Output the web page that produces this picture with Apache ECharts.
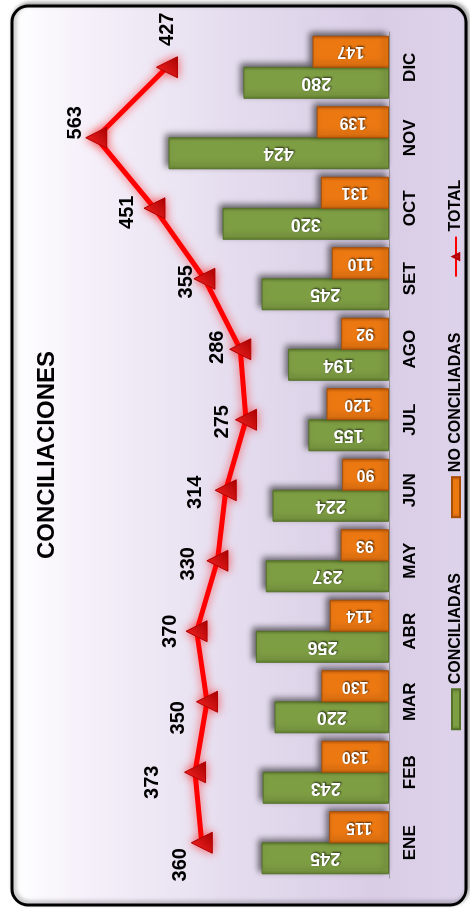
<!DOCTYPE html>
<html>
<head>
<meta charset="utf-8">
<script src="https://cdn.jsdelivr.net/npm/echarts@6/dist/echarts.min.js"></script>
<style>
  html, body { margin: 0; padding: 0; background: #fff; overflow: hidden; }
  body { width: 470px; height: 910px; position: relative; }
  /* the chart is drawn landscape and turned a quarter turn to the left */
  #conc-chart-div {
    position: absolute; left: 0; top: 0;
    width: 910px; height: 470px;
    transform-origin: 0 0;
    transform: translate(0, 910px) rotate(-90deg);
  }
</style>
</head>
<body>
<div id="conc-chart-div"></div>
<script>
var months = ['ENE', 'FEB', 'MAR', 'ABR', 'MAY', 'JUN', 'JUL', 'AGO', 'SET', 'OCT', 'NOV', 'DIC'];
var conciliadas = [245, 243, 220, 256, 237, 224, 155, 194, 245, 320, 424, 280];
var noConciliadas = [115, 130, 130, 114, 93, 90, 120, 92, 110, 131, 139, 147];
var total = [360, 373, 350, 370, 330, 314, 275, 286, 355, 451, 563, 427];

// where each TOTAL label sits relative to its marker (hand placed in the original)
var totalLabelOffsets = [[-22, -21], [-10, -43], [-16, -29], [0, -26], [-3, -29], [-2, -30],
    [-2, -24], [2, -23], [-3, -18], [-4, -27], [15, -21], [38, 1]];

var conc_font = 'Arial, "Liberation Sans", sans-serif';
var conc_chartDom = document.getElementById('conc-chart-div');
var conc_myChart = echarts.init(conc_chartDom);

var conc_green = new echarts.graphic.LinearGradient(0, 0, 1, 0, [
    { offset: 0, color: '#64832e' },
    { offset: 0.12, color: '#7e9e44' },
    { offset: 0.88, color: '#7e9e44' },
    { offset: 1, color: '#5f7c2b' }
]);
var conc_orange = new echarts.graphic.LinearGradient(0, 0, 1, 0, [
    { offset: 0, color: '#c9600a' },
    { offset: 0.12, color: '#ec7812' },
    { offset: 0.88, color: '#ec7812' },
    { offset: 1, color: '#c25b08' }
]);

// values inside the bars read upside down once the page is turned
var conc_barLabel = {
    show: true,
    position: 'inside',
    rotate: 90,
    color: '#fff',
    fontWeight: 'bold',
    fontFamily: conc_font,
    fontSize: 18,
    textShadowColor: 'rgba(0,0,0,0.7)',
    textShadowBlur: 2,
    textShadowOffsetX: 1,
    textShadowOffsetY: 1
};

var conc_option = {
    animation: false,
    graphic: [
        {
            type: 'rect',
            z: -10,
            silent: true,
            shape: { x: 5, y: 12, width: 899, height: 454, r: 16 },
            style: {
                fill: new echarts.graphic.LinearGradient(0, 0, 0, 1, [
                    { offset: 0, color: '#ffffff' },
                    { offset: 0.15, color: '#f6f1fa' },
                    { offset: 0.5, color: '#e4dcee' },
                    { offset: 0.8, color: '#d9cde6' },
                    { offset: 1, color: '#ddd3ea' }
                ]),
                stroke: '#000',
                lineWidth: 3,
                shadowColor: 'rgba(0,0,0,0.35)',
                shadowBlur: 4,
                shadowOffsetX: 2,
                shadowOffsetY: 2
            }
        }
    ],
    title: {
        text: 'CONCILIACIONES',
        left: 'center',
        top: 30,
        textStyle: {
            fontFamily: conc_font,
            fontWeight: 'bold',
            fontSize: 24,
            color: '#000'
        }
    },
    legend: {
        left: 'center',
        top: 443,
        itemGap: 55,
        itemWidth: 40,
        itemHeight: 8,
        selectedMode: false,
        textStyle: {
            fontFamily: conc_font,
            fontWeight: 'bold',
            fontSize: 16,
            color: '#000'
        },
        data: [
            { name: 'CONCILIADAS', icon: 'rect' },
            { name: 'NO CONCILIADAS', icon: 'rect' },
            { name: 'TOTAL' }
        ]
    },
    grid: {
        left: 32,
        right: 32,
        top: 25,
        bottom: 81
    },
    xAxis: {
        type: 'category',
        data: months,
        axisTick: { show: false },
        axisLine: { show: true, lineStyle: { color: '#9a9a9a', width: 1 } },
        axisLabel: {
            margin: 13,
            fontFamily: conc_font,
            fontWeight: 'bold',
            fontSize: 17,
            color: '#000'
        }
    },
    yAxis: {
        type: 'value',
        min: 0,
        max: 700,
        show: false,
        splitLine: { show: false }
    },
    series: [
        {
            name: 'CONCILIADAS',
            type: 'bar',
            barWidth: 32,
            barGap: '-3%',
            itemStyle: {
                color: conc_green,
                borderColor: '#55712a',
                borderWidth: 1,
                shadowColor: 'rgba(0,0,0,0.55)',
                shadowBlur: 6,
                shadowOffsetX: 3,
                shadowOffsetY: -3
            },
            label: conc_barLabel,
            data: conciliadas
        },
        {
            name: 'NO CONCILIADAS',
            type: 'bar',
            barWidth: 32,
            itemStyle: {
                color: conc_orange,
                borderColor: '#a84f06',
                borderWidth: 1,
                shadowColor: 'rgba(0,0,0,0.55)',
                shadowBlur: 6,
                shadowOffsetX: 3,
                shadowOffsetY: -3
            },
            label: Object.assign({}, conc_barLabel, { fontSize: 16 }),
            data: noConciliadas
        },
        {
            name: 'TOTAL',
            type: 'line',
            z: 5,
            symbol: 'triangle',
            symbolSize: [21, 21],
            lineStyle: {
                color: '#ff0000',
                width: 5,
                shadowColor: 'rgba(255,0,0,0.6)',
                shadowBlur: 10
            },
            itemStyle: {
                color: new echarts.graphic.LinearGradient(0, 0, 1, 1, [
                    { offset: 0, color: '#ff2a2a' },
                    { offset: 1, color: '#a00000' }
                ]),
                borderColor: '#b00000',
                borderWidth: 1,
                shadowColor: 'rgba(255,0,0,0.6)',
                shadowBlur: 10
            },
            label: {
                show: true,
                position: 'inside',
                rotate: 0,
                fontFamily: conc_font,
                fontWeight: 'bold',
                fontSize: 20,
                color: '#000'
            },
            data: total.map(function (v, i) {
                return { value: v, label: { offset: totalLabelOffsets[i] } };
            })
        }
    ]
};

if (conc_option && typeof conc_option === 'object') {
    conc_myChart.setOption(conc_option);
}
</script>
</body>
</html>
